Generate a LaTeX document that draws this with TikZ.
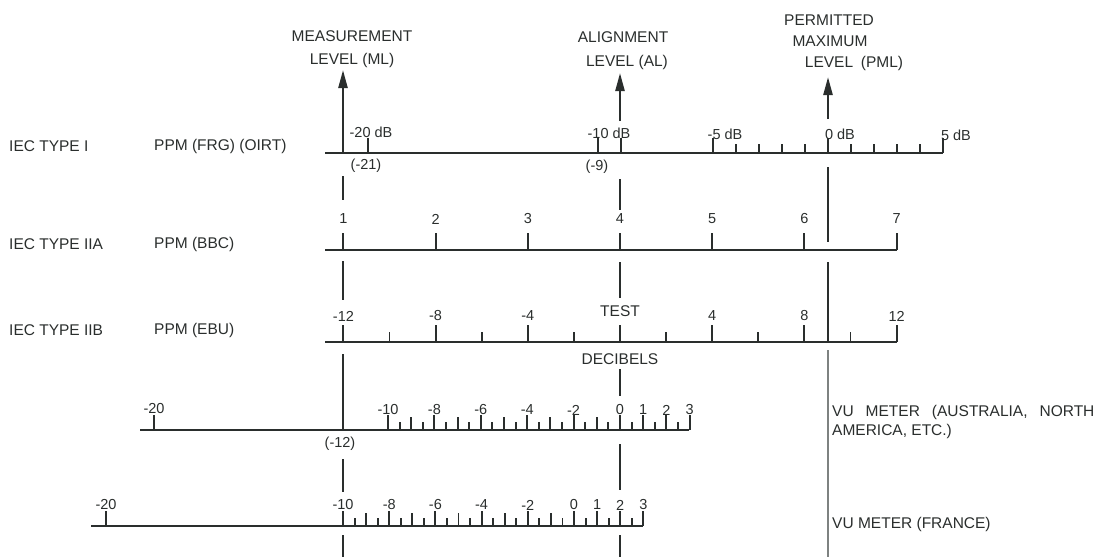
\documentclass[tikz,border=0pt]{standalone}
\usepackage{fontspec}
\setmainfont{Liberation Sans}
\usepackage{tikz}
\usetikzlibrary{arrows.meta,positioning}
\definecolor{ink}{HTML}{2A2E2D}
\definecolor{rulegray}{HTML}{7E8281}

\begin{document}
\begin{tikzpicture}[x=1pt,y=-1pt,
  every node/.style={inner sep=0pt,text=ink},
  scaleline/.style={draw=ink,line width=2.6pt},
  tick/.style={draw=ink,line width=1.9pt},
  level/.style={draw=ink,line width=2.4pt},
  levelarrow/.style={level,-{Triangle[length=18pt,width=9pt]}},
  heading/.style={font=\fontsize{15.5}{19}\selectfont},
  rowname/.style={heading,anchor=west},
  num/.style={font=\fontsize{14.5}{16}\selectfont}]
  \useasboundingbox (0,0) rectangle (1100,557);

  % names of the three levels
  \node[heading] (mlA) at (352,36) {MEASUREMENT};
  \node[heading] (mlB) at (352,60) {LEVEL (ML)};
  \node[heading] (alA) at (623,37) {ALIGNMENT};
  \node[heading] (alB) at (627,62) {LEVEL (AL)};
  \node[heading] (pmlA) at (829,20) {PERMITTED};
  \node[heading] (pmlB) at (830,41) {MAXIMUM};
  \node[heading] (pmlC) at (854,63) {LEVEL\enspace(PML)};

  % meter names
  \node[rowname] (typeI) at (9,146) {IEC TYPE I};
  \node[rowname] (ppmI) at (154,146) {PPM (FRG) (OIRT)};
  \node[rowname] (typeIIA) at (9,244) {IEC TYPE IIA};
  \node[rowname] (ppmIIA) at (154,244) {PPM (BBC)};
  \node[rowname] (typeIIB) at (9,330) {IEC TYPE IIB};
  \node[rowname] (ppmIIB) at (154,330) {PPM (EBU)};
  \node[heading,anchor=west,align=left] (vuAus) at (832,422) {VU\hspace{12pt}METER\hspace{12pt}(AUSTRALIA,\hspace{12pt}NORTH\\AMERICA, ETC.)};
  \node[heading,anchor=west] (vuFr) at (832,524) {VU METER (FRANCE)};

  % PPM (FRG) scale
  \draw[scaleline] (325,153) -- (943,153);
  \foreach \d in {-20,-10,-9,-5,0,5} \draw[tick] ({828+23*\d},153) -- ++(0,-15);
  \foreach \d in {-4,-3,-2,-1,1,2,3,4} \draw[tick] ({828+23*\d},153) -- ++(0,-9);
  \node[num] (frgm20) at (371,132) {-20 dB};
  \node[num] (frgm10) at (609,133) {-10 dB};
  \node[num] (frgm5) at (725,134) {-5 dB};
  \node[num] (frg0) at (840,134) {0 dB};
  \node[num] (frg5) at (956,135) {5 dB};
  \node[num] (frgML) at (366,166) {(-21)};
  \node[num] (frgAL) at (597,167) {(-9)};

  % PPM (BBC) scale
  \draw[scaleline] (325,250) -- (897,250);
  \foreach \n in {1,...,7} {
    \draw[tick] ({620+92.2*(\n-4)},250) -- ++(0,-17);
    \node[num] (bbc\n) at ({620+92.2*(\n-4)},219) {\n};
  }

  % PPM (EBU) scale
  \draw[scaleline] (325,342) -- (897,342);
  \foreach \d in {-12,-8,...,12} \draw[tick] ({620+23.05*\d},342) -- ++(0,-17);
  \foreach \d in {-10,-6,...,10} \draw[tick] ({620+23.05*\d},342) -- ++(0,-10);
  \foreach \d in {-12,-8,-4,4,8,12} \node[num] (ebu\d) at ({620+23.05*\d},316) {\d};
  \node[heading] (test) at (620,311) {TEST};
  \node[heading] (decibels) at (620,359) {DECIBELS};

  % VU scale, Australia and North America
  \draw[scaleline] (140,430) -- (689,430);
  \draw[tick] (154,430) -- ++(0,-15);
  \node[num] (vuAm20) at (154,409) {-20};
  \foreach \d in {-10,-8,-6,-4,-2,0,1,2,3} {
    \draw[tick] ({620+23.2*\d},430) -- ++(0,-15);
    \node[num] (vuA\d) at ({620+23.2*\d},410) {\d};
  }
  \foreach \d in {-9,-7,-5,-3,-1} \draw[tick] ({620+23.2*\d},430) -- ++(0,-13);
  \foreach \d in {-9.5,-8.5,...,2.5} \draw[tick] ({620+23.2*\d},430) -- ++(0,-8);
  \node[num] (vuAML) at (340,444) {(-12)};

  % VU scale, France
  \draw[scaleline] (91,526) -- (643,526);
  \draw[tick] (106,526) -- ++(0,-15);
  \node[num] (vuFm20) at (106,505) {-20};
  \foreach \d in {-10,-8,-6,-4,-2,0,1,2,3} {
    \draw[tick] ({574+23.1*\d},526) -- ++(0,-15);
    \node[num] (vuF\d) at ({574+23.1*\d},505) {\d};
  }
  \foreach \d in {-9,-7,-5,-3,-1} \draw[tick] ({574+23.1*\d},526) -- ++(0,-13);
  \foreach \d in {-9.5,-8.5,...,2.5} \draw[tick] ({574+23.1*\d},526) -- ++(0,-8);

  % level lines
  \coordinate (mlFoot) at (343,153);
  \coordinate (mlTip) at (343,70);
  \coordinate (alFoot) at (620,121);
  \coordinate (alTip) at (620,73);
  \coordinate (pmlFoot) at (828,119);
  \coordinate (pmlTip) at (828,77);
  \draw[levelarrow] (mlFoot) -- (mlTip);
  \draw[levelarrow] (alFoot) -- (alTip);
  \draw[levelarrow] (pmlFoot) -- (pmlTip);
  \foreach \a/\b in {176/200,261/300,354/430,459/492,535/557} \draw[level] (343,\a) -- (343,\b);
  \foreach \a/\b in {179/210,262/298,369/396,444/490,535/557} \draw[level] (620,\a) -- (620,\b);
  \foreach \a/\b in {167/242,262/342} \draw[level] (828,\a) -- (828,\b);
  \draw[level,draw=rulegray,line width=2.8pt] (828,350) -- (828,557);
\end{tikzpicture}
\end{document}
